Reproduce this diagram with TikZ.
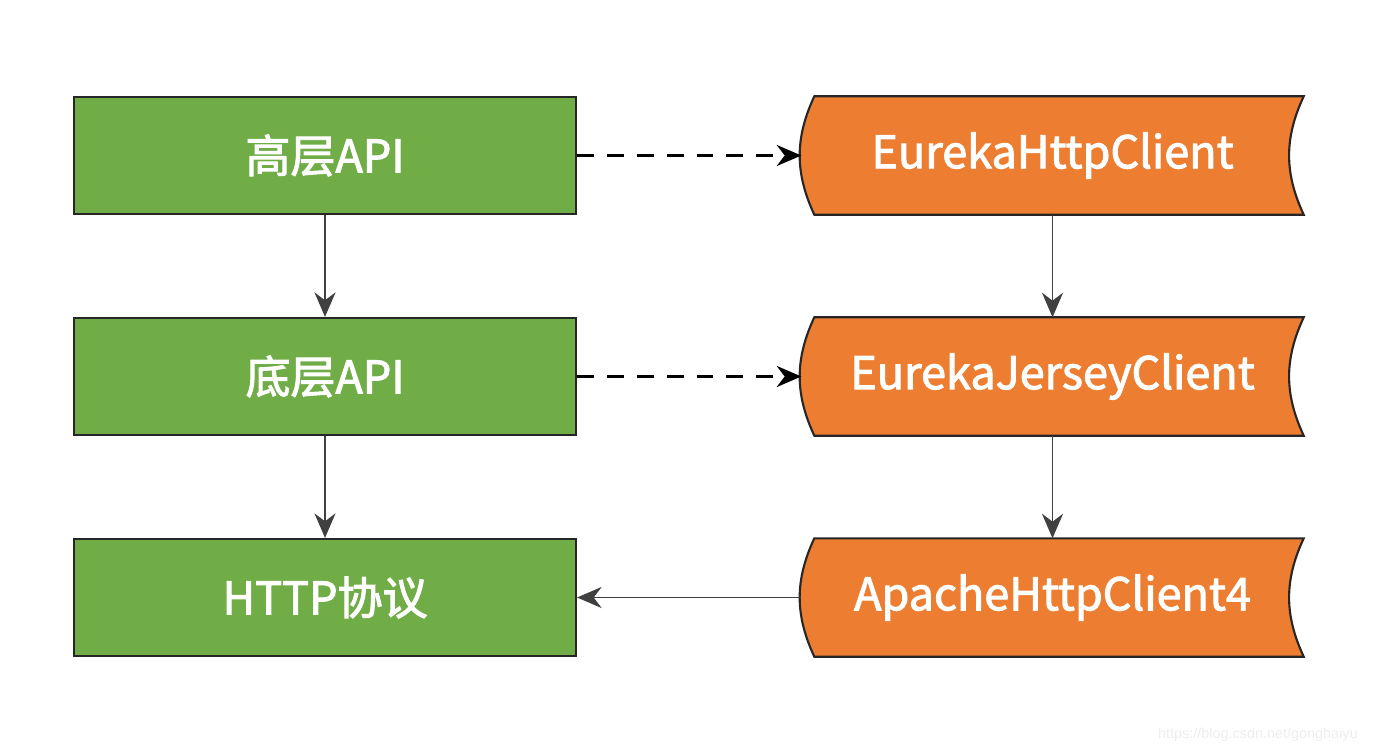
\documentclass[tikz,border=0pt]{standalone}
\usepackage{fontspec}
\setmainfont{Liberation Sans}
\newfontfamily\cjk[FakeBold=2.2]{Noto Sans CJK SC}
\usetikzlibrary{arrows.meta,backgrounds}

\definecolor{boxgreen}{HTML}{70AD47}
\definecolor{boxorange}{HTML}{ED7D31}

\begin{document}
\begin{tikzpicture}[
   greenbox/.style={draw=black!85,line width=0.6pt,fill=boxgreen,minimum width=5.02cm,minimum height=1.17cm,
      text=white,font=\cjk\fontsize{12.8}{15}\selectfont},
   orangebox/.style={minimum width=5.01cm,minimum height=1.17cm,inner sep=0pt,
      text=white,font=\cjk\fontsize{12.8}{15}\selectfont},
   link/.style={-{Stealth[length=7pt,width=6pt]},line width=0.5pt,draw=black!75},
   dashlink/.style={link,line width=0.7pt,draw=black,dash pattern=on 4.8pt off 3.7pt}
]
   \useasboundingbox (0,0) rectangle (13.78,7.53);

   % left column
   \node[greenbox] (high) at (3.25,5.975) {高层API};
   \node[greenbox] (low) at (3.25,3.765) {底层API};
   \node[greenbox] (http) at (3.25,1.555) {HTTP协议};

   % right column
   \node[orangebox] (eurekahttp) at (10.525,5.975) {EurekaHttpClient};
   \node[orangebox] (jersey) at (10.525,3.765) {EurekaJerseyClient};
   \node[orangebox] (apache) at (10.525,1.555) {ApacheHttpClient4};

   \begin{scope}[on background layer]
   \foreach \n in {eurekahttp,jersey,apache}
      \draw[draw=black!85,line width=0.6pt,fill=boxorange]
         ([xshift=0.13cm]\n.north west) -- (\n.north east)
         to[bend right=25] (\n.south east)
         -- ([xshift=0.13cm]\n.south west)
         to[bend left=25] cycle;
   \end{scope}

   % connectors
   \draw[link] (high) -- (low);
   \draw[link] (low) -- (http);
   \draw[link] (eurekahttp) -- (jersey);
   \draw[link] (jersey) -- (apache);
   \draw[dashlink] (high.east) -- (eurekahttp.west);
   \draw[dashlink] (low.east) -- (jersey.west);
   \draw[link] (apache.west) -- (http.east);

   \node[text=black!7,font=\fontsize{4.1}{5}\selectfont,anchor=east] (mark) at (13.7,0.18) {https://blog.csdn.net/gonghaiyu};
\end{tikzpicture}
\end{document}
